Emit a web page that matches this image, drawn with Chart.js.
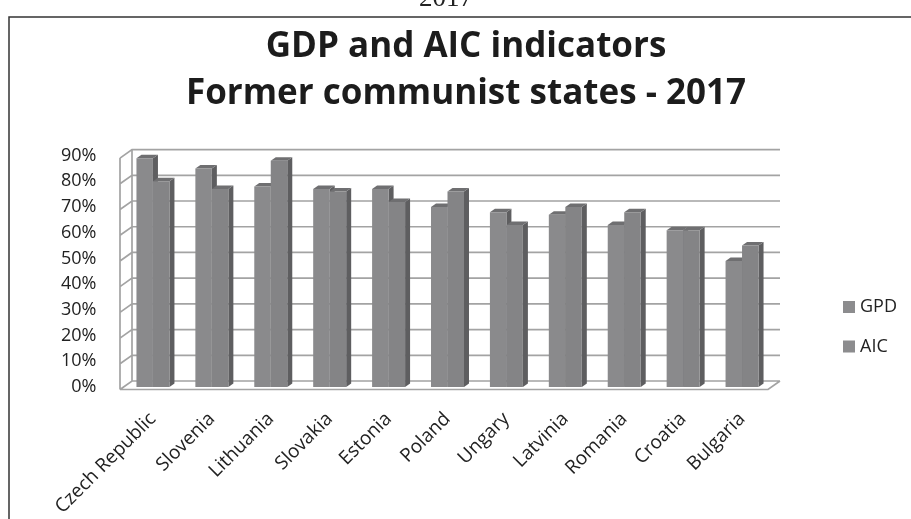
<!DOCTYPE html>
<html>
<head>
<meta charset="utf-8">
<script src="https://cdn.jsdelivr.net/npm/chart.js@4.4.1/dist/chart.umd.min.js"></script>
<style>
  html, body { margin: 0; padding: 0; background: #fff; }
  canvas { display: block; }
</style>
</head>
<body>
<canvas id="gdpChart" width="911" height="519"></canvas>
<script>
const countries = [
  "Czech Republic", "Slovenia", "Lithuania", "Slovakia", "Estonia", "Poland",
  "Ungary", "Latvinia", "Romania", "Croatia", "Bulgaria",
];
const gdpValues = [89, 85, 78, 77, 77, 70, 68, 67, 63, 61, 49];
const aicValues = [80, 77, 88, 76, 72, 76, 63, 70, 68, 61, 55];
const seriesNames = ["GPD", "AIC"];
const yMax = 90;
const yStep = 10;

const FONT = "'Open Sans', 'DejaVu Sans', sans-serif";

// depth of the walls relative to the plane the bar fronts sit in
const FRONT = { dx: -3.5, dy: 2.5 };
const BACK = { dx: 8.5, dy: -6 };
// depth of each column
const BAR_DX = 5;
const BAR_DY = 3.5;

const sideColor = "#5e5e60";
const topColor = "#6f6f71";
const wallLine = "#a3a3a3";

function poly(ctx, pts, fill) {
  ctx.beginPath();
  ctx.moveTo(pts[0][0], pts[0][1]);
  for (let i = 1; i < pts.length; i++) ctx.lineTo(pts[i][0], pts[i][1]);
  ctx.closePath();
  ctx.fillStyle = fill;
  ctx.fill();
}

// page frame + the year line peeking in above it
const framePlugin = {
  id: "frame",
  beforeDraw(chart) {
    const ctx = chart.ctx;
    ctx.save();
    ctx.fillStyle = "#fff";
    ctx.fillRect(0, 0, chart.width, chart.height);
    ctx.fillStyle = "#222";
    ctx.font = "27px 'Liberation Serif', serif";
    ctx.textAlign = "center";
    ctx.textBaseline = "alphabetic";
    ctx.fillText("2017", 446, 6);
    ctx.strokeStyle = "#333";
    ctx.lineWidth = 1.5;
    ctx.beginPath();
    ctx.moveTo(9, chart.height);
    ctx.lineTo(9, 17);
    ctx.lineTo(chart.width, 17);
    ctx.stroke();
    ctx.restore();
  },
};

// back wall, side wall, floor and the column depth faces
const wallsPlugin = {
  id: "walls",
  beforeDatasetsDraw(chart) {
    const ctx = chart.ctx;
    const y = chart.scales.y;
    const L = chart.chartArea.left;
    const R = chart.chartArea.right;
    const y0 = y.getPixelForValue(0);
    const yTop = y.getPixelForValue(yMax);
    ctx.save();
    ctx.strokeStyle = wallLine;
    ctx.lineWidth = 1.7;
    ctx.beginPath();
    for (let v = 0; v <= yMax; v += yStep) {
      const py = y.getPixelForValue(v);
      ctx.moveTo(L + FRONT.dx, py + FRONT.dy);
      ctx.lineTo(L + BACK.dx, py + BACK.dy);
      ctx.lineTo(R + BACK.dx, py + BACK.dy);
    }
    // side wall edges
    ctx.moveTo(L + FRONT.dx, yTop + FRONT.dy);
    ctx.lineTo(L + FRONT.dx, y0 + FRONT.dy);
    ctx.moveTo(L + BACK.dx, yTop + BACK.dy);
    ctx.lineTo(L + BACK.dx, y0 + BACK.dy);
    // floor
    ctx.moveTo(L + FRONT.dx, y0 + FRONT.dy);
    ctx.lineTo(R + FRONT.dx, y0 + FRONT.dy);
    ctx.lineTo(R + BACK.dx, y0 + BACK.dy);
    ctx.stroke();

    chart.data.datasets.forEach((ds, i) => {
      const meta = chart.getDatasetMeta(i);
      meta.data.forEach((bar) => {
        const p = bar.getProps(["x", "y", "base", "width"], true);
        const l = p.x - p.width / 2;
        const r = p.x + p.width / 2;
        poly(ctx, [[r, p.y], [r + BAR_DX, p.y - BAR_DY], [r + BAR_DX, p.base - BAR_DY], [r, p.base]], sideColor);
        poly(ctx, [[l, p.y], [l + BAR_DX, p.y - BAR_DY], [r + BAR_DX, p.y - BAR_DY], [r, p.y]], topColor);
      });
    });
    ctx.restore();
  },
};

const legendPlugin = {
  id: "sideLegend",
  afterDraw(chart) {
    const ctx = chart.ctx;
    ctx.save();
    ctx.font = "18px " + FONT;
    ctx.textBaseline = "middle";
    ctx.textAlign = "left";
    chart.data.datasets.forEach((ds, i) => {
      const cy = 307 + i * 39.5;
      ctx.fillStyle = "#8c8c8e";
      ctx.fillRect(843, cy - 6, 12, 12);
      ctx.fillStyle = "#222";
      ctx.fillText(ds.label, 860, cy);
    });
    ctx.restore();
  },
};

const config = {
  type: "bar",
  data: {
    labels: countries,
    datasets: [
      {
        label: seriesNames[0],
        data: gdpValues,
        backgroundColor: "#8a8a8c",
        borderWidth: 0,
      },
      {
        label: seriesNames[1],
        data: aicValues,
        backgroundColor: "#848486",
        borderWidth: 0,
      },
    ],
  },
  plugins: [framePlugin, wallsPlugin, legendPlugin],
  options: {
    responsive: false,
    animation: false,
    devicePixelRatio: 1,
    layout: { padding: { left: 21, right: 0, top: 0, bottom: 0 } },
    datasets: {
      bar: { categoryPercentage: 0.56, barPercentage: 1 },
    },
    scales: {
      x: {
        grid: { display: false },
        border: { display: false },
        ticks: {
          color: "#222",
          font: { family: FONT, size: 19 },
          minRotation: 45,
          maxRotation: 45,
          padding: 13,
        },
        afterFit(scale) {
          scale.height = 132;
        },
      },
      y: {
        min: 0,
        max: yMax,
        grid: { display: false, drawTicks: false },
        border: { display: false },
        ticks: {
          stepSize: yStep,
          color: "#222",
          padding: 27,
          font: { family: FONT, size: 18 },
          callback: (v) => v + "%",
        },
        afterFit(scale) {
          scale.width = 102.5;
        },
      },
      // empty column on the right that leaves room for the legend
      spacer: {
        position: "right",
        display: true,
        grid: { display: false },
        border: { display: false },
        ticks: { display: false },
        afterFit(scale) {
          scale.width = 139.5;
        },
      },
    },
    plugins: {
      legend: { display: false },
      tooltip: { enabled: false },
      title: {
        display: true,
        text: ["GDP and AIC indicators", "Former communist states - 2017"],
        color: "#1c1c1c",
        font: { family: FONT, size: 35, weight: "bold", lineHeight: 1.33 },
        padding: { top: 23.75, bottom: 38.75 },
      },
    },
  },
};

const myChart = new Chart(document.getElementById("gdpChart"), config);
</script>
</body>
</html>
